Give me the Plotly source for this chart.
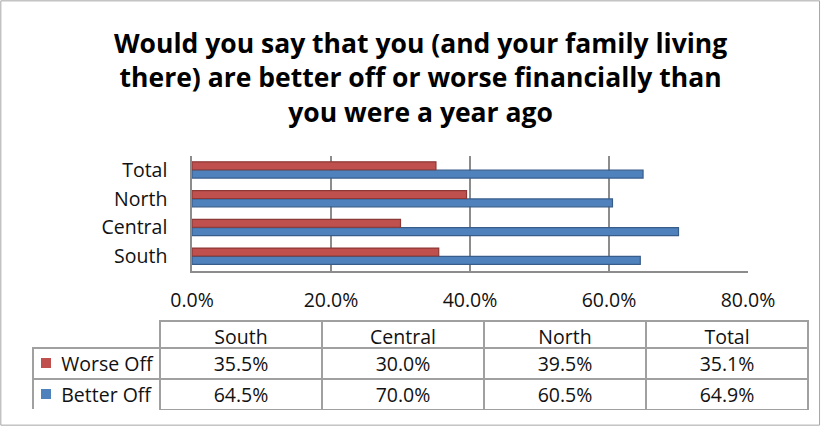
import plotly.graph_objects as go

# Survey results by region
categories = ["South", "Central", "North", "Total"]
worse_off = [35.5, 30.0, 39.5, 35.1]
better_off = [64.5, 70.0, 60.5, 64.9]
series_names = ["Worse Off", "Better Off"]
series_colors = ["#C0504D", "#4F81BD"]
edge_colors = ["#8C3836", "#385D8A"]
tick_vals = [0, 20, 40, 60, 80]
tick_text = ["0.0%", "20.0%", "40.0%", "60.0%", "80.0%"]
title_lines = [
    "Would you say that you (and your family living",
    "there) are better off or worse financially than",
    "you were a year ago",
]

W, H = 822, 426
FONT = "Open Sans"
FS = 19.5
GRID = "#8C8C8C"
TXT = "#111111"
NBSP = "\u00a0"


def px_x(v):
    return v / W


def px_y(v):
    return 1 - v / H


fig = go.Figure()

# Better Off first so that Worse Off sits above it in each group
for name, vals, col, edge in [
    (series_names[1], better_off, series_colors[1], edge_colors[1]),
    (series_names[0], worse_off, series_colors[0], edge_colors[0]),
]:
    fig.add_trace(go.Bar(
        y=categories, x=vals, orientation="h", name=name,
        marker=dict(color=col, line=dict(color=edge, width=1.2)),
        showlegend=False, hoverinfo="skip",
    ))

# Data table: category header plus value rows
fmt = lambda a: [f"{v:.1f}%" for v in a]
cell_font = dict(family=FONT, size=FS, color=TXT)
border = dict(color="#A0A0A0", width=1.5)
fig.add_trace(go.Table(
    domain=dict(x=[px_x(160), px_x(808)], y=[px_y(410), px_y(321)]),
    columnwidth=[1, 1, 1, 1],
    header=dict(values=categories, height=27, align="center",
                fill_color="white", line=border, font=cell_font),
    cells=dict(values=[[w, b] for w, b in zip(fmt(worse_off), fmt(better_off))],
               height=31, align="center",
               fill_color="white", line=border, font=cell_font),
))

# Legend keys column of the table (coloured squares drawn as shapes)
key_text = [NBSP * 4 + n.replace(" ", NBSP) for n in series_names]
fig.add_trace(go.Table(
    domain=dict(x=[px_x(33), px_x(160)], y=[px_y(410), px_y(348)]),
    header=dict(values=[key_text[0]], height=31, align="left",
                fill_color="white", line=border, font=cell_font),
    cells=dict(values=[[key_text[1]]], height=31, align="left",
               fill_color="white", line=border, font=cell_font),
))

key_shapes = []
for i, col in enumerate(series_colors):
    top = 358 + i * 31
    key_shapes.append(dict(
        type="rect", xref="paper", yref="paper",
        x0=px_x(41), x1=px_x(51), y0=px_y(top + 10), y1=px_y(top),
        fillcolor=col, line=dict(width=0),
    ))

title_ann = dict(
    text="<br>".join(title_lines), x=px_x(420), y=px_y(77),
    xref="paper", yref="paper", xanchor="center", yanchor="middle",
    showarrow=False, align="center",
    font=dict(family=FONT, size=26.5, color="#000000", weight="bold"),
)

fig.update_layout(
    width=W, height=H,
    margin=dict(l=0, r=0, t=0, b=0),
    paper_bgcolor="white", plot_bgcolor="white",
    barmode="group", bargap=0.42, bargroupgap=0.05,
    font=dict(family=FONT, size=FS, color=TXT),
    xaxis=dict(
        domain=[px_x(192), px_x(748)], range=[0, 80],
        tickvals=tick_vals, ticktext=tick_text,
        showgrid=True, gridcolor=GRID, gridwidth=1.5,
        zeroline=False, showline=True, linecolor=GRID, linewidth=1.5,
        ticks="", ticklabelstandoff=11, automargin=False,
        tickfont=dict(family=FONT, size=FS, color=TXT),
    ),
    yaxis=dict(
        domain=[px_y(270.6), px_y(155.6)], range=[-0.5, 3.5],
        showgrid=False, zeroline=False,
        showline=True, linecolor=GRID, linewidth=1.5,
        ticks="", ticklabelstandoff=19, automargin=False,
        tickfont=dict(family=FONT, size=FS, color=TXT),
    ),
    annotations=[title_ann],
    shapes=key_shapes + [dict(
        type="rect", xref="paper", yref="paper",
        x0=0.001, y0=0.002, x1=0.997, y1=0.998,
        line=dict(color="#A6A6A6", width=1),
    )],
)

fig.write_html("out.html")
